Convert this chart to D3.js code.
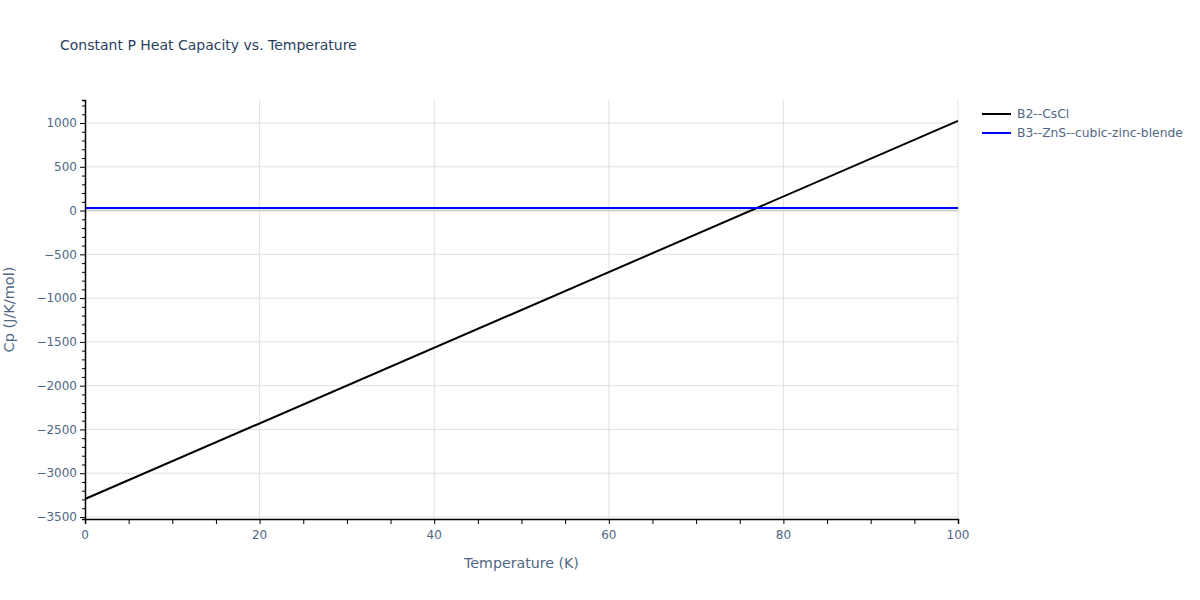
<!DOCTYPE html>
<html lang="en">
<head>
<meta charset="UTF-8">
<title>Constant P Heat Capacity vs. Temperature</title>
<script src="https://d3js.org/d3.v7.min.js"></script>
<style>
  body { margin: 0; background: #fff; font-family: "DejaVu Sans", Verdana, sans-serif; }
  svg text { font-family: "DejaVu Sans", Verdana, sans-serif; }
</style>
</head>
<body>
<svg id="chart"></svg>
<script>
const width = 1200, height = 600;
const margin = {left: 85, right: 242, top: 100, bottom: 81};

// data
const seriesNames = ["B2--CsCl", "B3--ZnS--cubic-zinc-blende"];
const seriesColors = ["#000000", "#0000ff"];
const temperature = [0, 100];
const cpCsCl = [-3295, 1025];
const cpZnS = [30, 30];
const xTicks = [0, 20, 40, 60, 80, 100];
const yTicks = [-3500, -3000, -2500, -2000, -1500, -1000, -500, 0, 500, 1000];

const svg = d3.select("#chart").attr("width", width).attr("height", height);

const x = d3.scaleLinear().domain([0, 100]).range([margin.left, width - margin.right]);
const y = d3.scaleLinear().domain([-3523, 1263]).range([height - margin.bottom, margin.top]);

const textCol = "#506784";

// grid
svg.append("g").selectAll("line").data(xTicks.slice(1)).join("line")
  .attr("x1", d => x(d)).attr("x2", d => x(d))
  .attr("y1", margin.top).attr("y2", height - margin.bottom)
  .attr("stroke", "#e1e1e1").attr("stroke-width", 1);
svg.append("g").selectAll("line").data(yTicks.filter(d => d !== 0)).join("line")
  .attr("x1", margin.left).attr("x2", width - margin.right)
  .attr("y1", d => y(d)).attr("y2", d => y(d))
  .attr("stroke", "#e1e1e1").attr("stroke-width", 1);
// zero line
svg.append("line")
  .attr("x1", margin.left).attr("x2", width - margin.right)
  .attr("y1", y(0)).attr("y2", y(0))
  .attr("stroke", "#d0d0d0").attr("stroke-width", 2);

// series
const line = d3.line().x(d => x(d[0])).y(d => y(d[1]));
const series = [cpCsCl, cpZnS];
series.forEach((vals, i) => {
  svg.append("path")
    .datum(temperature.map((t, j) => [t, vals[j]]))
    .attr("d", line)
    .attr("fill", "none")
    .attr("stroke", seriesColors[i])
    .attr("stroke-width", 2);
});

// x axis
const xAxis = svg.append("g").attr("transform", `translate(0,${height - margin.bottom})`);
xAxis.call(d3.axisBottom(x).tickValues(d3.range(0, 101, 5)).tickSize(5).tickFormat(""));
xAxis.call(g => g.select(".domain").attr("stroke", "#000").attr("stroke-width", 1.5));
xAxis.selectAll(".tick line").attr("stroke", "#000");
xAxis.append("g").selectAll("text").data(xTicks).join("text")
  .attr("x", d => x(d)).attr("y", 20)
  .attr("text-anchor", "middle").attr("font-size", 12).attr("fill", textCol)
  .text(d => d);

// y axis
const yAxis = svg.append("g").attr("transform", `translate(${margin.left},0)`);
yAxis.call(d3.axisLeft(y).tickValues(d3.range(-3500, 1201, 100)).tickSize(3).tickFormat(""));
yAxis.call(g => g.select(".domain").attr("stroke", "#000").attr("stroke-width", 1.5));
yAxis.selectAll(".tick line").attr("stroke", "#000");
yAxis.selectAll(".tick").filter(d => d % 500 === 0).select("line").attr("x2", -5);
yAxis.append("g").selectAll("text").data(yTicks).join("text")
  .attr("x", -8).attr("y", d => y(d)).attr("dy", "0.35em")
  .attr("text-anchor", "end").attr("font-size", 12).attr("fill", textCol)
  .text(d => d < 0 ? "\u2212" + Math.abs(d) : d);

// titles
svg.append("text").attr("x", 60).attr("y", 50)
  .attr("font-size", 14).attr("fill", "#2a3f5f")
  .text("Constant P Heat Capacity vs. Temperature");
svg.append("text").attr("x", (x(0) + x(100)) / 2).attr("y", 568)
  .attr("text-anchor", "middle").attr("font-size", 14.2).attr("fill", textCol)
  .text("Temperature (K)");
svg.append("text")
  .attr("transform", `translate(14,${(margin.top + height - margin.bottom) / 2}) rotate(-90)`)
  .attr("text-anchor", "middle").attr("font-size", 14.5).attr("fill", textCol)
  .text("Cp (J/K/mol)");

// legend
const legend = svg.append("g").attr("transform", "translate(982,114)");
seriesNames.forEach((name, i) => {
  const row = legend.append("g").attr("transform", `translate(0,${i * 19})`);
  row.append("line").attr("x1", 0).attr("x2", 29).attr("y1", 0).attr("y2", 0)
    .attr("stroke", seriesColors[i]).attr("stroke-width", 2);
  row.append("text").attr("x", 35).attr("y", 0).attr("dy", "0.35em")
    .attr("font-size", 12.3).attr("fill", textCol).text(name);
});
</script>
</body>
</html>
